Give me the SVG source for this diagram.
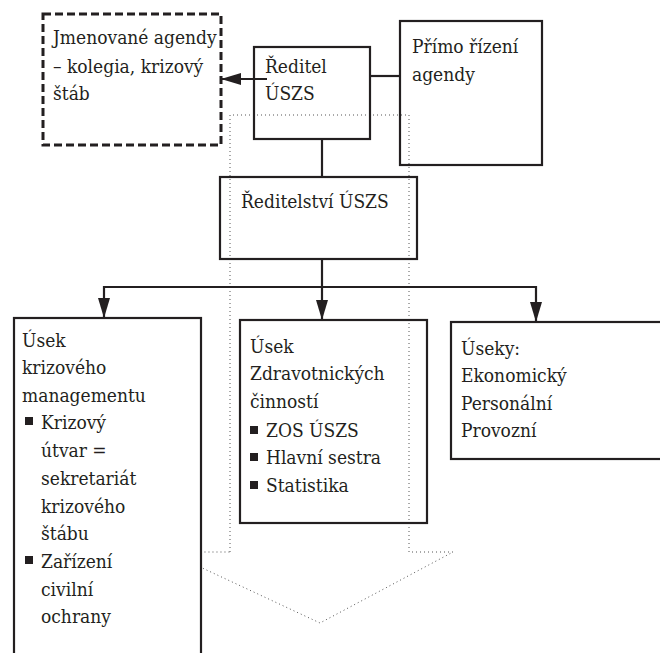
<svg xmlns="http://www.w3.org/2000/svg" width="660" height="653" viewBox="0 0 660 653">
<style>
.box{fill:none;stroke:#231f20;stroke-width:2.2}
.wbox{fill:#fff;stroke:#231f20;stroke-width:2.2}
.dash{fill:none;stroke:#231f20;stroke-width:3;stroke-dasharray:8 4}
.ln{fill:none;stroke:#231f20;stroke-width:2.2}
.dot{fill:none;stroke:#555;stroke-width:1;stroke-dasharray:1 3}
.bul{fill:#231f20}
.txt{font-family:'DejaVu Serif Condensed','DejaVu Serif',serif;font-stretch:condensed;font-size:19px;fill:#231f20}
</style>
<defs>
<marker id="ah" viewBox="0 0 20 12" refX="20" refY="6" markerWidth="20" markerHeight="12" markerUnits="userSpaceOnUse" orient="auto">
<path d="M0,0 L20,6 L0,12 Z" fill="#231f20"/>
</marker>
</defs>
<g id="bigarrow">
<path class="dot" d="M230,552 L230,115 L409,115 L409,552 L453,552 L320,623 L168,552 L230,552"/>
</g>
<g id="connectors">
<line class="ln" x1="267" y1="79" x2="221" y2="79" marker-end="url(#ah)"/>
<line class="ln" x1="370" y1="76" x2="400" y2="76"/>
<line class="ln" x1="322" y1="139" x2="322" y2="177"/>
<line class="ln" x1="322" y1="259" x2="322" y2="320" marker-end="url(#ah)"/>
<polyline class="ln" points="104,287 536,287 536,322" marker-end="url(#ah)"/>
<line class="ln" x1="104" y1="286" x2="104" y2="318" marker-end="url(#ah)"/>
</g>
<g class="txt">
<g id="jmenovane">
<rect class="dash" x="43" y="14" width="178" height="131"/>
<text x="53" y="44">Jmenované agendy</text>
<text x="53" y="73">– kolegia, krizový</text>
<text x="53" y="100">štáb</text>
</g>
<g id="reditel">
<rect class="box" x="254" y="47" width="116" height="92"/>
<text x="265" y="73">Ředitel</text>
<text x="265" y="100">ÚSZS</text>
</g>
<g id="primo">
<rect class="box" x="400" y="21" width="142" height="144"/>
<text x="412" y="53">Přímo řízení</text>
<text x="412" y="81">agendy</text>
</g>
<g id="reditelstvi">
<rect class="box" x="220" y="177" width="197" height="82"/>
<text x="241" y="208">Ředitelství ÚSZS</text>
</g>
<g id="krizovy">
<rect class="wbox" x="14" y="318" width="187" height="345"/>
<text x="22" y="347">Úsek</text>
<text x="22" y="374">krizového</text>
<text x="22" y="402">managementu</text>
<rect class="bul" x="25" y="417" width="8" height="8"/>
<text x="41" y="429">Krizový</text>
<text x="41" y="457">útvar =</text>
<text x="41" y="485">sekretariát</text>
<text x="41" y="513">krizového</text>
<text x="41" y="540">štábu</text>
<rect class="bul" x="25" y="556" width="8" height="8"/>
<text x="41" y="568">Zařízení</text>
<text x="41" y="596">civilní</text>
<text x="41" y="623">ochrany</text>
</g>
<g id="zdravotnicke">
<rect class="box" x="240" y="320" width="187" height="203"/>
<text x="250" y="353">Úsek</text>
<text x="250" y="380">Zdravotnických</text>
<text x="250" y="408">činností</text>
<rect class="bul" x="250" y="426" width="8" height="8"/>
<text x="266" y="437">ZOS ÚSZS</text>
<rect class="bul" x="250" y="453" width="8" height="8"/>
<text x="266" y="464">Hlavní sestra</text>
<rect class="bul" x="250" y="481" width="8" height="8"/>
<text x="266" y="492">Statistika</text>
</g>
<g id="useky">
<rect class="box" x="451" y="322" width="212" height="137"/>
<text x="461" y="355">Úseky:</text>
<text x="461" y="382">Ekonomický</text>
<text x="461" y="410">Personální</text>
<text x="461" y="437">Provozní</text>
</g>
</g>
</svg>
